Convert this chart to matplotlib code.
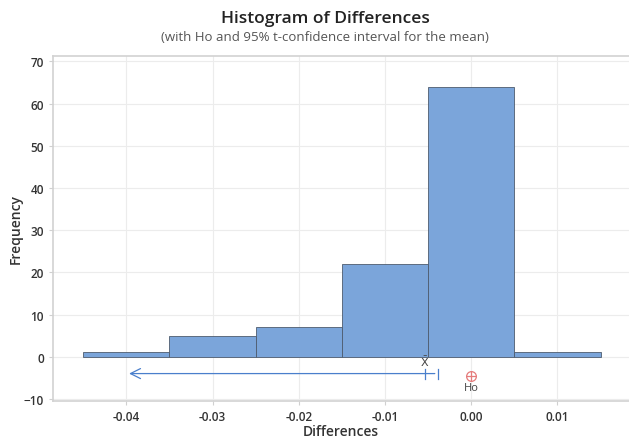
import matplotlib.pyplot as plt
import numpy as np

# Histogram bins and counts
bin_edges = [-0.045, -0.035, -0.025, -0.015, -0.005, 0.005, 0.015]
counts = [1, 5, 7, 22, 64, 1]

# 95% one-sided t-confidence interval for the mean, and the null value
mean_diff = -0.00535
upper_bound = -0.0039
arrow_end = -0.040
h0 = 0.0
ci_level = -4.0

x_ticks = [-0.04, -0.03, -0.02, -0.01, 0.00, 0.01]
y_ticks = [-10, 0, 10, 20, 30, 40, 50, 60, 70]

plt.rcParams['font.family'] = ['Open Sans', 'DejaVu Sans']

fig = plt.figure(figsize=(6.29, 4.39), dpi=100)
ax = fig.add_axes([0.0843, 0.0843, 0.9157, 0.786])

left = np.array(bin_edges[:-1])
widths = np.diff(bin_edges)
ax.bar(left, counts, width=widths, align='edge', color='#7ba5da',
       edgecolor='#4d5b6e', linewidth=0.6, zorder=3)

# confidence interval drawn as arrow towards minus infinity
ci_color = '#4a7fcc'
ax.annotate('', xy=(arrow_end, ci_level), xytext=(upper_bound, ci_level),
            arrowprops=dict(arrowstyle='->', color=ci_color, lw=0.9,
                            mutation_scale=18), zorder=4)
ax.plot([upper_bound, upper_bound], [ci_level - 1.2, ci_level + 1.2],
        color=ci_color, lw=0.9, zorder=4)
ax.plot([mean_diff, mean_diff], [ci_level - 1.2, ci_level + 1.2],
        color=ci_color, lw=0.9, zorder=4)
ax.text(mean_diff, ci_level + 1.2, r'$\bar{\mathrm{X}}$', ha='center', va='bottom',
        fontsize=8, color='#444444')

ax.plot(h0, ci_level - 0.5, marker='o', markersize=7, markerfacecolor='none',
        markeredgecolor='#e57b7b', markeredgewidth=0.9, zorder=4)
ax.plot(h0, ci_level - 0.5, marker='+', markersize=7,
        markeredgecolor='#e57b7b', markeredgewidth=0.9, zorder=4)
ax.text(h0, ci_level - 2.0, 'Ho', ha='center', va='top', fontsize=8,
        color='#444444')

ax.set_xlim(-0.0485, 0.0183)
ax.set_ylim(-10.5, 71.3)
ax.set_xticks(x_ticks)
ax.set_xticklabels([f'{t:.2f}' for t in x_ticks])
ax.set_yticks(y_ticks)

ax.grid(True, color='#ececec', linewidth=0.8, zorder=0)
ax.tick_params(axis='both', labelsize=8.5, colors='#d0d0d0', labelcolor='#333333',
               length=3, width=0.8)
for lab in ax.get_xticklabels() + ax.get_yticklabels():
    lab.set_fontweight('semibold')
for side in ['left', 'bottom', 'top']:
    ax.spines[side].set_color('#d2d2d2')
    ax.spines[side].set_linewidth(1.2)
ax.spines['right'].set_visible(False)

ax.set_xlabel('Differences', fontsize=10, color='#333333', labelpad=0.5,
              fontweight='semibold')
ax.set_ylabel('Frequency', fontsize=10, color='#333333', labelpad=0.5,
              fontweight='semibold')

fig.text(0.517, 0.956, 'Histogram of Differences', ha='center', va='center',
         fontsize=12.5, color='#222222', fontweight='semibold')
fig.text(0.517, 0.914, '(with Ho and 95% t-confidence interval for the mean)',
         ha='center', va='center', fontsize=9.5, color='#555555')

fig.savefig('out.png', dpi=100)
